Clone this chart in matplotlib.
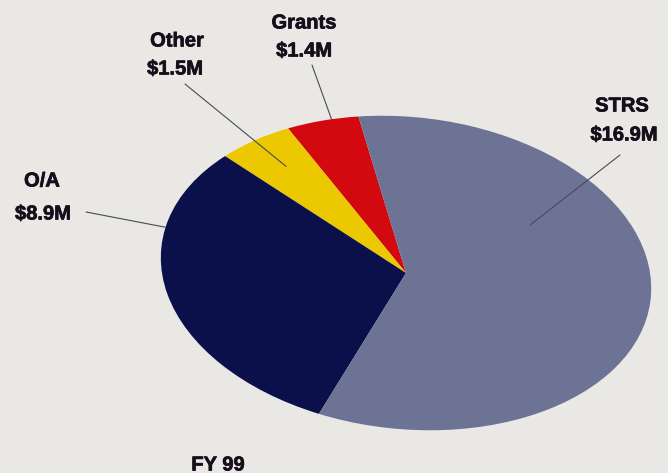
import numpy as np
import matplotlib.pyplot as plt
import matplotlib.patheffects as pe
from matplotlib.transforms import Affine2D

# FY 99 funding sources (millions of dollars)
labels = ['Grants', 'Other', 'O/A', 'STRS']
values = [1.4, 1.5, 8.9, 16.9]
value_labels = ['$1.4M', '$1.5M', '$8.9M', '$16.9M']
colors = ['#d20a10', '#ecc800', '#0c104a', '#6c7394']
title = 'FY 99'

W, H = 668, 473
bg = '#e9e8e5'
ink = '#170e1b'

fig = plt.figure(figsize=(W / 100, H / 100), dpi=100)
fig.patch.set_facecolor(bg)
ax = fig.add_axes([0, 0, 1, 1])
ax.set_facecolor(bg)

wedges, _ = ax.pie(values, colors=colors, startangle=105, counterclock=True,
                   radius=1, wedgeprops=dict(linewidth=0))

# squash the round pie into a slightly tilted ellipse (pixel space, y up)
squash = Affine2D().scale(246, 156).rotate_deg(-6).translate(406, H - 273)
for w in wedges:
    w.set_transform(squash + ax.transData)

ax.set_xlim(0, W)
ax.set_ylim(0, H)
ax.set_aspect('auto')
ax.axis('off')

# heavy display type: bold plus a thin stroke of the same colour
font = dict(family=['Liberation Sans', 'DejaVu Sans'], weight='bold',
            fontsize=14.5, color=ink,
            path_effects=[pe.withStroke(linewidth=0.5, foreground=ink)])

# label layout: name centre, value centre, leader start (pixels, y down),
# leader end as (angle in degrees, radius) on the unit pie
name_pos = [(304, 23), (177, 41), (42, 181), (622, 106)]
value_pos = [(304, 51), (175, 69), (43, 214), (624, 135)]
lead_start = [(312, 65), (185, 84), (86, 212), (620, 155)]
lead_end = [(111.5, 1.0), (131.5, 0.8), (172.5, 1.0), (39, 0.62)]

for i in range(len(labels)):
    ax.text(name_pos[i][0], H - name_pos[i][1], labels[i],
            ha='center', va='center', **font)
    ax.text(value_pos[i][0], H - value_pos[i][1], value_labels[i],
            ha='center', va='center', **font)
    ang, r = lead_end[i]
    ex, ey = squash.transform((r * np.cos(np.radians(ang)),
                               r * np.sin(np.radians(ang))))
    sx, sy = lead_start[i]
    ax.plot([sx, ex], [H - sy, ey], color='#4a4a55', lw=0.8,
            solid_capstyle='round')

ax.text(218, H - 465, title, ha='center', va='center', **font)

fig.savefig('out.png', dpi=100, facecolor=bg)
